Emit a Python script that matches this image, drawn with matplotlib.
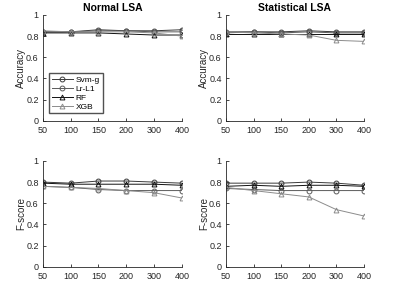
import matplotlib
matplotlib.use('Agg')
from matplotlib import pyplot as plt

sizes = ['50', '100', '150', '200', '300', '400']
models = ['Svm-g', 'Lr-L1', 'RF', 'XGB']
markers = ['o', 'o', '^', '^']
colors = ['#3a3a3a', '#5a5a5a', '#111111', '#8c8c8c']

# accuracy, normal LSA
acc_normal = [
    [0.84, 0.84, 0.86, 0.85, 0.85, 0.86],
    [0.84, 0.84, 0.85, 0.85, 0.84, 0.84],
    [0.83, 0.83, 0.83, 0.82, 0.81, 0.81],
    [0.85, 0.84, 0.84, 0.84, 0.83, 0.80],
]
# accuracy, statistical LSA
acc_stat = [
    [0.84, 0.84, 0.84, 0.85, 0.84, 0.84],
    [0.83, 0.84, 0.83, 0.84, 0.83, 0.83],
    [0.82, 0.82, 0.82, 0.82, 0.82, 0.82],
    [0.84, 0.83, 0.82, 0.81, 0.76, 0.75],
]
# f-score, normal LSA
f_normal = [
    [0.80, 0.79, 0.81, 0.81, 0.80, 0.79],
    [0.76, 0.75, 0.73, 0.72, 0.72, 0.72],
    [0.79, 0.78, 0.78, 0.78, 0.78, 0.77],
    [0.76, 0.75, 0.74, 0.72, 0.70, 0.65],
]
# f-score, statistical LSA
f_stat = [
    [0.79, 0.79, 0.79, 0.80, 0.79, 0.77],
    [0.74, 0.73, 0.72, 0.72, 0.72, 0.72],
    [0.76, 0.77, 0.76, 0.77, 0.77, 0.76],
    [0.75, 0.72, 0.69, 0.66, 0.54, 0.48],
]

plt.rcParams['font.family'] = ['Liberation Sans', 'DejaVu Sans']
fig = plt.figure(figsize=(3.97, 2.92), dpi=100)

panels = [
    (acc_normal, 'Accuracy', 'Normal LSA', [0.108, 0.586, 0.350, 0.363]),
    (acc_stat, 'Accuracy', 'Statistical LSA', [0.569, 0.586, 0.348, 0.363]),
    (f_normal, 'F-score', None, [0.108, 0.086, 0.350, 0.363]),
    (f_stat, 'F-score', None, [0.569, 0.086, 0.348, 0.363]),
]

x = range(len(sizes))
for i, (data, ylab, title, rect) in enumerate(panels):
    ax = fig.add_axes(rect)
    for vals, name, m, c in zip(data, models, markers, colors):
        ax.plot(x, vals, marker=m, color=c, mfc='none', mec=c, ms=3.5,
                lw=0.7, mew=0.7, label=name)
    ax.set_xlim(0, len(sizes) - 1)
    ax.set_ylim(0, 1)
    ax.set_xticks(list(x))
    ax.set_xticklabels(sizes)
    ax.set_yticks([0, 0.2, 0.4, 0.6, 0.8, 1])
    ax.set_yticklabels(['0', '0.2', '0.4', '0.6', '0.8', '1'])
    ax.spines['top'].set_visible(False)
    ax.spines['right'].set_visible(False)
    for s in ['left', 'bottom']:
        ax.spines[s].set_color('#262626')
        ax.spines[s].set_linewidth(0.6)
    ax.tick_params(direction='in', length=2, width=0.6, labelsize=6.5,
                   colors='#262626')
    ax.tick_params(axis='x', pad=3.5)
    ax.tick_params(axis='y', pad=3)
    ax.set_ylabel(ylab, fontsize=7, color='#262626', labelpad=0)
    if title:
        ax.set_title(title, fontsize=7.5, fontweight='bold', pad=3)
    if i == 0:
        ax.legend(loc='lower left', bbox_to_anchor=(0.045, 0.07), fontsize=6,
                  frameon=True, fancybox=False, edgecolor='#262626',
                  handlelength=2.6, handletextpad=0.3, borderpad=0.3,
                  labelspacing=0.15, borderaxespad=0)

fig.savefig('out.png', dpi=100, facecolor='white')
